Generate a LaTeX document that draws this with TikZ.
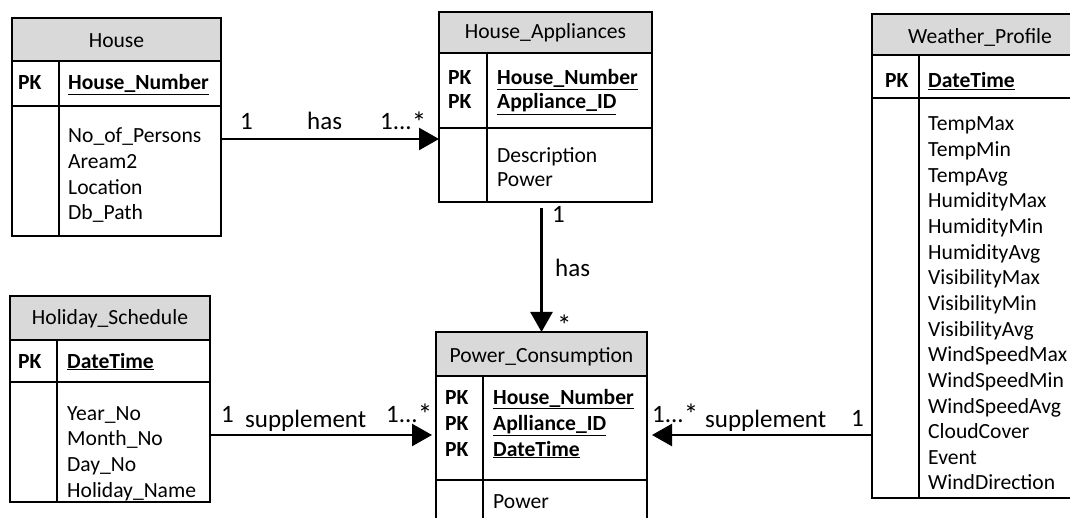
\documentclass[tikz,border=0pt]{standalone}
\usepackage{fontspec}
\setmainfont{Carlito}
\usetikzlibrary{arrows.meta,calc}
\definecolor{hdr}{HTML}{D9D9D9}
\newcommand{\bigast}{\raisebox{-2.5pt}{\fontsize{29}{29}\selectfont *}}
\begin{document}
\begin{tikzpicture}[x=1pt,y=-1pt,
  every node/.style={font=\fontsize{21.6}{26}\selectfont},
  tbl/.style={draw, line width=1.5pt, inner sep=0pt, outer sep=0pt, anchor=north west},
  box/.style={line width=1.5pt},
  txt/.style={inner sep=0pt, anchor=base west},
  ttl/.style={inner sep=0pt, anchor=base},
  lbl/.style={inner sep=0pt, anchor=base west, font=\fontsize{25}{30}\selectfont},
  conn/.style={line width=2.5pt, -{Triangle[length=20pt,width=22pt]}}]
\useasboundingbox (0,0) rectangle (1070,518);
\clip (0,0) rectangle (1070,518);

% ---------- House ----------
\fill[hdr] (12,18) rectangle (221,61);
\node[tbl, minimum width=209pt, minimum height=218pt] (house) at (12,18) {};
\draw[box] (12,61) -- (221,61) (12,106) -- (221,106) (59,61) -- (59,236);
\node[ttl] (house-t) at (116.5,48) {House};
\node[txt] (house-pk) at (18,90) {\textbf{PK}};
\node[txt] (house-k) at (68,90) {\textbf{\underline{House\_Number}}};
\foreach \t [count=\i from 0] in {No\_of\_Persons,Aream2,Location,Db\_Path}
  \node[txt] (house-a\i) at (68,143+25.6*\i) {\t};

% ---------- House_Appliances ----------
\fill[hdr] (439,12) rectangle (652,53);
\node[tbl, minimum width=213pt, minimum height=190pt] (ha) at (439,12) {};
\draw[box] (439,53) -- (652,53) (439,128) -- (652,128) (487,53) -- (487,202);
\node[ttl] (ha-t) at (545.5,39) {House\_Appliances};
\node[txt] (ha-pk1) at (448,85) {\textbf{PK}};
\node[txt] (ha-pk2) at (448,109) {\textbf{PK}};
\node[txt] (ha-k1) at (497,85) {\textbf{\underline{House\_Number}}};
\node[txt] (ha-k2) at (497,109) {\textbf{\underline{Appliance\_ID}}};
\node[txt] (ha-a1) at (497,163) {Description};
\node[txt] (ha-a2) at (497,187) {Power};

% ---------- Power_Consumption ----------
\fill[hdr] (436,332) rectangle (647,376);
\node[tbl, minimum width=211pt, minimum height=200pt] (pc) at (436,332) {};
\draw[box] (436,376) -- (647,376) (436,480) -- (647,480) (483,376) -- (483,532);
\node[ttl] (pc-t) at (541.5,362) {Power\_Consumption};
\node[txt] (pc-pk1) at (445,404) {\textbf{PK}};
\node[txt] (pc-pk2) at (445,430) {\textbf{PK}};
\node[txt] (pc-pk3) at (445,456) {\textbf{PK}};
\node[txt] (pc-k1) at (493,404) {\textbf{\underline{House\_Number}}};
\node[txt] (pc-k2) at (493,430) {\textbf{\underline{Aplliance\_ID}}};
\node[txt] (pc-k3) at (493,456) {\textbf{\underline{DateTime}}};
\node[txt] (pc-a1) at (493,508) {Power};

% ---------- Holiday_Schedule ----------
\fill[hdr] (10,296) rectangle (210,340);
\node[tbl, minimum width=200pt, minimum height=206pt] (hol) at (10,296) {};
\draw[box] (10,340) -- (210,340) (10,382) -- (210,382) (57,340) -- (57,502);
\node[ttl] (hol-t) at (110,325) {Holiday\_Schedule};
\node[txt] (hol-pk) at (18,368) {\textbf{PK}};
\node[txt] (hol-k) at (67,368) {\textbf{\underline{DateTime}}};
\foreach \t [count=\i from 0] in {Year\_No,Month\_No,Day\_No,Holiday\_Name}
  \node[txt] (hol-a\i) at (67,420+25.7*\i) {\t};

% ---------- Weather_Profile ----------
\fill[hdr] (872,14) rectangle (1082,55);
\node[tbl, minimum width=210pt, minimum height=484pt] (wp) at (872,14) {};
\draw[box] (872,55) -- (1082,55) (872,98) -- (1082,98) (919,55) -- (919,498);
\node[ttl] (wp-t) at (980,44) {Weather\_Profile};
\node[txt] (wp-pk) at (885,88) {\textbf{PK}};
\node[txt] (wp-k) at (928,88) {\textbf{\underline{DateTime}}};
\foreach \t [count=\i from 0] in {TempMax,TempMin,TempAvg,HumidityMax,HumidityMin,HumidityAvg,VisibilityMax,VisibilityMin,VisibilityAvg,WindSpeedMax,WindSpeedMin,WindSpeedAvg,CloudCover,Event,WindDirection}
  \node[txt] (wp-a\i) at (928,131+25.64*\i) {\t};

% ---------- Connectors ----------
\coordinate (r1) at (0,139);
\coordinate (r2) at (0,435);
\coordinate (v) at (541.5,0);

\draw[conn] (house.east |- r1) -- (ha.west |- r1);
\node[lbl] (l1a) at (240,130) {1};
\node[lbl] (l1b) at (307,130) {has};
\node[lbl] (l1c) at (380,130) {1...\bigast};

\draw[conn] ($(ha.south -| v)+(0,6)$) -- (pc.north -| v);
\node[lbl] (l2a) at (552,223) {1};
\node[lbl] (l2b) at (555,277) {has};
\node[lbl] (l2c) at (557,333) {\bigast};

\draw[conn] (hol.east |- r2) -- ($(pc.west |- r2)+(-4,0)$);
\node[lbl] (l3a) at (221,422) {1};
\node[lbl] (l3b) at (245,427) {supplement};
\node[lbl] (l3c) at (386,422) {1...\bigast};

\draw[conn] (wp.west |- r2) -- ($(pc.east |- r2)+(5,0)$);
\node[lbl] (l4a) at (652,422) {1...\bigast};
\node[lbl] (l4b) at (705,427) {supplement};
\node[lbl] (l4c) at (851,426) {1};
\end{tikzpicture}
\end{document}
